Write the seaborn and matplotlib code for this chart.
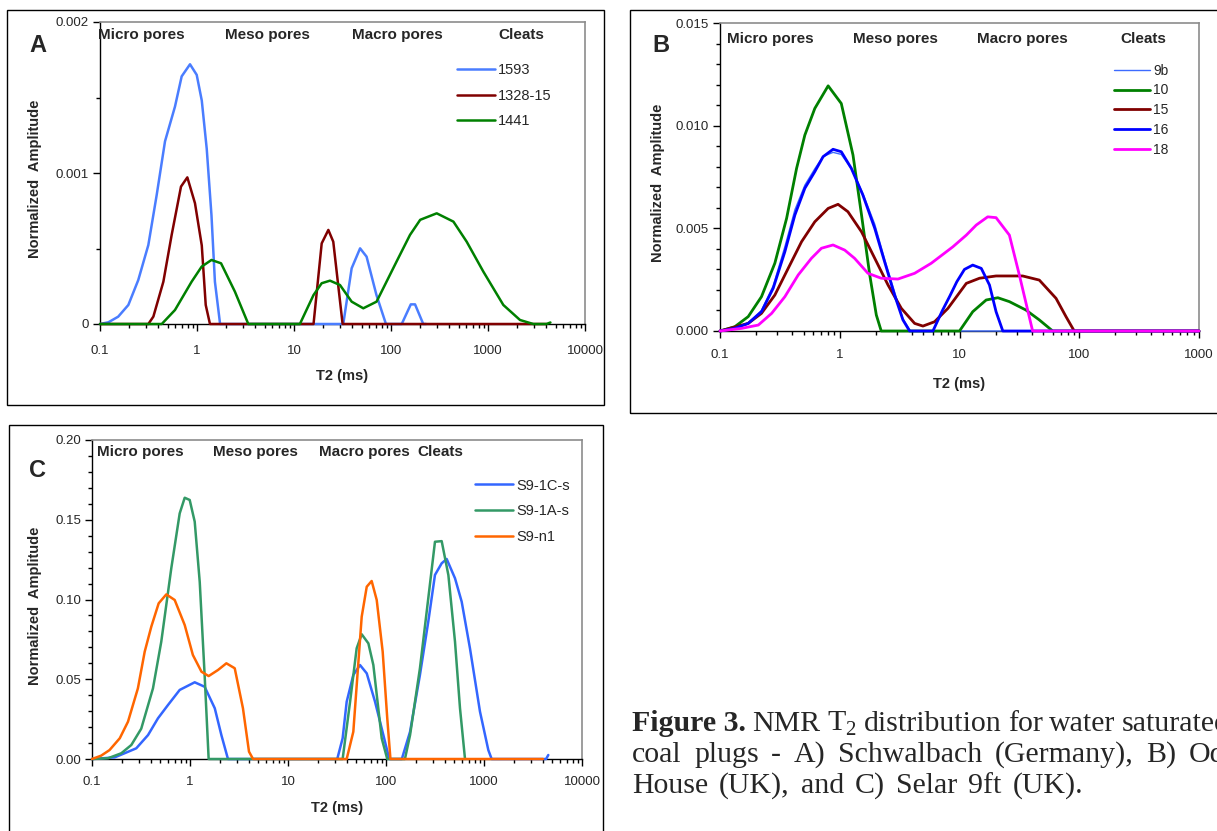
import numpy as np
import pandas as pd
import matplotlib
matplotlib.use("Agg")
import matplotlib.pyplot as plt
import matplotlib.ticker as mticker
from matplotlib.patches import Rectangle
import seaborn as sns

sns.set_style("white")
plt.rcParams["font.family"] = ["Liberation Sans", "DejaVu Sans"]

W, H = 1217, 831

# ---- Panel A: Schwalbach ----
t2_1593 = [0.1, 0.122, 0.154, 0.196, 0.248, 0.315, 0.384, 0.468, 0.593, 0.695, 0.847, 0.993,
           1.12, 1.26, 1.41, 1.53, 1.73, 32.2, 39.3, 48, 56, 70.8, 88.7, 129, 160, 177, 215, 230]
amp_1593 = [0, 0.0000113, 0.0000485, 0.000126, 0.000291, 0.000523, 0.000854, 0.00121, 0.00144,
            0.00164, 0.00172, 0.00165, 0.00148, 0.00116, 0.00072, 0.00028, 0, 0, 0.000369,
            0.000501, 0.000446, 0.000192, 0, 0, 0.00013, 0.00013, 0, 0]
t2_1328 = [0.1, 0.315, 0.355, 0.45, 0.548, 0.684, 0.795, 0.953, 1.12, 1.23, 1.36,
           15.9, 19.3, 22.6, 25.4, 31.7, 4000]
amp_1328 = [0, 0, 0.000049, 0.00028, 0.00059, 0.00091, 0.000971, 0.0008, 0.00052, 0.000126, 0,
            0, 0.000534, 0.000623, 0.000545, 0, 0]
t2_1441 = [0.1, 0.433, 0.593, 0.88, 1.117, 1.41, 1.77, 2.46, 3.38, 11.5, 15.9, 19.3, 23.5, 29.8,
           39.3, 51.8, 71, 114, 157, 200, 296, 440, 603, 895, 1439, 2138, 2930, 4000, 4400]
amp_1441 = [0, 0, 0.0000927, 0.00028, 0.00038, 0.000424, 0.000402, 0.000214, 0, 0, 0.000192,
            0.00027, 0.000287, 0.000258, 0.000148, 0.000104, 0.000148, 0.000413, 0.00059,
            0.00069, 0.000733, 0.000678, 0.000545, 0.000347, 0.000126, 0.0000265, 0, 0, 0.00001]

# ---- Panel B: Oddie House ----
t2_9b = [0.1, 0.133, 0.172, 0.222, 0.278, 0.348, 0.422, 0.511, 0.619, 0.726, 0.879, 1.03,
         1.25, 1.56, 1.96, 2.37, 2.87, 3.37, 3.9, 1000]
amp_9b = [0, 0.00014, 0.0004, 0.001, 0.0022, 0.0041, 0.0059, 0.0071, 0.0079, 0.0085, 0.0087,
          0.0086, 0.0079, 0.0067, 0.0052, 0.0035, 0.0019, 0.0006, 0, 0]
t2_10 = [0.1, 0.133, 0.172, 0.222, 0.287, 0.36, 0.436, 0.511, 0.619, 0.8, 1.03, 1.29, 1.52,
         1.78, 2.02, 2.22, 10, 12.9, 16.7, 20.9, 26.1, 35.9, 46.4, 60, 1000]
amp_10 = [0, 0.00021, 0.0007, 0.00167, 0.0033, 0.00549, 0.00792, 0.00954, 0.01084, 0.01194,
          0.01108, 0.00857, 0.00565, 0.00273, 0.00078, 0, 0, 0.00094, 0.00151, 0.00162,
          0.00143, 0.00102, 0.00054, 0, 0]
t2_15 = [0.1, 0.172, 0.222, 0.287, 0.371, 0.48, 0.619, 0.8, 0.968, 1.17, 1.52, 1.96, 2.53,
         3.27, 4.22, 4.95, 6.19, 8.0, 11.4, 14.7, 20.2, 33.7, 46.4, 64, 77.5, 90.8, 1000]
amp_15 = [0, 0.00037, 0.00086, 0.00175, 0.00305, 0.00435, 0.00532, 0.00597, 0.00617, 0.00581,
          0.00483, 0.00354, 0.00224, 0.0011, 0.00037, 0.00024, 0.00045, 0.0011, 0.00232,
          0.00257, 0.00268, 0.00268, 0.00248, 0.00159, 0.0007, 0, 0]
t2_16 = [0.1, 0.133, 0.172, 0.222, 0.278, 0.348, 0.422, 0.511, 0.619, 0.726, 0.879, 1.03,
         1.25, 1.56, 1.96, 2.37, 2.87, 3.37, 3.83, 6.0, 7.2, 8.3, 9.5, 11, 12.9, 15.2, 17.8,
         20.2, 23, 1000]
amp_16 = [0, 0.00013, 0.00037, 0.00094, 0.00208, 0.00386, 0.00565, 0.00695, 0.00776, 0.00849,
          0.00885, 0.00873, 0.00792, 0.00662, 0.005, 0.00337, 0.00175, 0.00054, 0, 0, 0.001,
          0.0017, 0.0024, 0.003, 0.00321, 0.00305, 0.00224, 0.00094, 0, 0]
t2_18 = [0.1, 0.152, 0.209, 0.27, 0.348, 0.45, 0.58, 0.703, 0.879, 1.1, 1.33, 1.72, 2.22, 3.06,
         4.22, 5.81, 8.8, 11.4, 13.8, 17.2, 20.2, 26.1, 31.6, 40.8, 1000]
amp_18 = [0, 0.00013, 0.00029, 0.00086, 0.00167, 0.00273, 0.00354, 0.00403, 0.00419, 0.00394,
          0.00354, 0.00281, 0.00257, 0.00253, 0.00281, 0.0033, 0.0041, 0.00467, 0.00516,
          0.00556, 0.00552, 0.00467, 0.00273, 0, 0]

# ---- Panel C: Selar 9ft ----
t2_1c = [0.1, 0.17, 0.215, 0.283, 0.373, 0.471, 0.597, 0.785, 1.117, 1.41, 1.79, 2.09, 2.44,
         31.8, 36.1, 39.7, 46.4, 54.3, 63.6, 77.3, 94, 108, 145, 176, 222, 270, 316, 370, 416,
         506, 592, 719, 910, 1107, 1197, 4300, 4530]
amp_1c = [0, 0.001, 0.0036, 0.0067, 0.015, 0.0255, 0.0339, 0.0433, 0.0481, 0.0453, 0.0318,
          0.015, 0, 0, 0.013, 0.0359, 0.0527, 0.0589, 0.0537, 0.0359, 0.015, 0, 0, 0.0171,
          0.0527, 0.0861, 0.1154, 0.1227, 0.1254, 0.1133, 0.0986, 0.0694, 0.0297, 0.0056, 0,
          0, 0.0025]
t2_1a = [0.1, 0.146, 0.199, 0.252, 0.318, 0.419, 0.509, 0.644, 0.785, 0.883, 0.993, 1.117,
         1.257, 1.41, 1.55, 36.1, 43, 50.2, 56.5, 66.1, 74.3, 90.4, 103, 156, 176, 222, 270,
         316, 370, 433, 506, 569, 640]
amp_1a = [0, 0.0005, 0.0036, 0.0088, 0.019, 0.0443, 0.0735, 0.1195, 0.154, 0.1638, 0.1624,
          0.1488, 0.111, 0.0527, 0, 0, 0.0359, 0.0694, 0.0782, 0.0725, 0.0589, 0.013, 0, 0,
          0.015, 0.0569, 0.1007, 0.1362, 0.1366, 0.1153, 0.0735, 0.0318, 0]
t2_n1 = [0.1, 0.124, 0.151, 0.192, 0.233, 0.294, 0.345, 0.403, 0.479, 0.573, 0.698, 0.883,
         1.07, 1.31, 1.55, 1.93, 2.35, 2.86, 3.47, 4.0, 4.4, 39.7, 46.4, 56.5, 63.6, 71.4,
         80.4, 92.5, 103, 111, 4000]
amp_n1 = [0, 0.0021, 0.0056, 0.013, 0.0234, 0.0443, 0.0673, 0.083, 0.0976, 0.1032, 0.0997,
          0.084, 0.0652, 0.0547, 0.052, 0.0558, 0.06, 0.0569, 0.0318, 0.0046, 0, 0, 0.0171,
          0.0892, 0.108, 0.1116, 0.0997, 0.0673, 0.0255, 0, 0]

regions = ["Micro pores", "Meso pores", "Macro pores", "Cleats"]

caption_lines = [
    ["Figure 3.", "NMR", r"T$_\mathregular{2}$", "distribution", "for", "water", "saturated"],
    ["coal", "plugs", "-", "A)", "Schwalbach", "(Germany),", "B)", "Oddie"],
    ["House", "(UK),", "and", "C)", "Selar", "9ft", "(UK)."],
]


def px_axes(x0, y0, x1, y1):
    """Axes rectangle from pixel corners (top-left origin)."""
    return [x0 / W, 1 - y1 / H, (x1 - x0) / W, (y1 - y0) / H]


def frame(x0, y0, x1, y1):
    fig.add_artist(Rectangle((x0 / W, 1 - y1 / H), (x1 - x0) / W, (y1 - y0) / H,
                             transform=fig.transFigure, fill=False,
                             edgecolor="black", linewidth=1))


def draw(ax, t2, amp, color, label, lw):
    sns.lineplot(x=t2, y=amp, color=color, label=label, linewidth=lw,
                 sort=False, estimator=None, ax=ax)


def style(ax, xmax, ymax, yticks, ylabels, yminor, xpad, region_x, region_y,
          ylab_x, xlab_y):
    ax.set_xscale("log")
    ax.set_xlim(0.1, xmax)
    ax.set_ylim(0, ymax)
    decades = [0.1, 1, 10, 100, 1000, 10000]
    decades = [d for d in decades if d <= xmax]
    ax.set_xticks(decades)
    ax.set_xticklabels([f"{d:g}" for d in decades])
    ax.xaxis.set_minor_locator(mticker.LogLocator(base=10, subs=np.arange(2, 10)))
    ax.xaxis.set_minor_formatter(mticker.NullFormatter())
    ax.set_yticks(yticks)
    ax.set_yticklabels(ylabels)
    ax.yaxis.set_minor_locator(mticker.MultipleLocator(yminor))
    ax.tick_params(which="both", direction="out", color="black", width=1,
                   labelsize=9.5, bottom=True, left=True)
    ax.tick_params(which="major", length=5)
    ax.tick_params(which="minor", length=3)
    ax.tick_params(axis="x", which="major", pad=xpad)
    ax.tick_params(axis="y", which="major", pad=3)
    for s in ["left", "bottom"]:
        ax.spines[s].set_color("black")
        ax.spines[s].set_linewidth(1)
    for s in ["top", "right"]:
        ax.spines[s].set_color("#8c8c8c")
        ax.spines[s].set_linewidth(1.2)
    for line in ax.lines:
        line.set_clip_on(False)
        line.set_zorder(3)
    ax.set_xlabel("T2 (ms)", fontsize=10.5, fontweight="bold")
    ax.set_ylabel("Normalized  Amplitude", fontsize=10.5, fontweight="bold")
    ax.xaxis.set_label_coords(0.5, xlab_y)
    ax.yaxis.set_label_coords(ylab_x, 0.48)
    for name, xf in zip(regions, region_x):
        ax.text(xf, region_y, name, transform=ax.transAxes, ha="center", va="center",
                fontsize=11, fontweight="bold")


def place_words(words, x0, y, gap, renderer, bold_first=False):
    x = x0
    for i, w in enumerate(words):
        weight = "bold" if (bold_first and i == 0) else "normal"
        t = fig.text(x / W, 1 - y / H, w, family=["Liberation Serif", "DejaVu Serif"],
                     fontsize=21.5, fontweight=weight, ha="left", va="baseline")
        x += t.get_window_extent(renderer=renderer).width + gap


fig = plt.figure(figsize=(W / 100, H / 100), dpi=100)

# Panel A
axA = fig.add_axes(px_axes(100, 22, 585, 324))
draw(axA, t2_1593, amp_1593, "#4a7dff", "1593", 1.8)
draw(axA, t2_1328, amp_1328, "#800000", "1328-15", 1.8)
draw(axA, t2_1441, amp_1441, "#008000", "1441", 1.8)
style(axA, 10000, 0.002, [0, 0.001, 0.002], ["0", "0.001", "0.002"], 0.0005, 10,
      [0.0845, 0.346, 0.614, 0.868], 0.957, -0.119, -0.15)
axA.legend(loc="upper left", bbox_to_anchor=(0.736, 0.864), frameon=False, fontsize=10.5,
           handlelength=2.6, handletextpad=0.2, labelspacing=0.8, borderpad=0,
           borderaxespad=0)

# Panel B
axB = fig.add_axes(px_axes(720, 23, 1199, 331))
draw(axB, t2_9b, amp_9b, "#3d6bff", "9b", 1.0)
draw(axB, t2_10, amp_10, "#008000", "10", 2.0)
draw(axB, t2_15, amp_15, "#800000", "15", 2.0)
draw(axB, t2_16, amp_16, "#0000ff", "16", 2.0)
draw(axB, t2_18, amp_18, "#ff00ff", "18", 2.0)
style(axB, 1000, 0.015, [0, 0.005, 0.010, 0.015], ["0.000", "0.005", "0.010", "0.015"],
      0.001, 8, [0.104, 0.367, 0.631, 0.883], 0.948, -0.114, -0.15)
axB.legend(loc="upper left", bbox_to_anchor=(0.823, 0.868), frameon=False, fontsize=10,
           handlelength=2.6, handletextpad=0.2, labelspacing=0.42, borderpad=0,
           borderaxespad=0)

# Panel C
axC = fig.add_axes(px_axes(92, 440, 582, 759))
draw(axC, t2_1c, amp_1c, "#3366ff", "S9-1C-s", 1.8)
draw(axC, t2_1a, amp_1a, "#339966", "S9-1A-s", 1.8)
draw(axC, t2_n1, amp_n1, "#ff6600", "S9-n1", 1.8)
style(axC, 10000, 0.20, [0, 0.05, 0.10, 0.15, 0.20], ["0.00", "0.05", "0.10", "0.15", "0.20"],
      0.01, 7.5, [0.098, 0.333, 0.555, 0.710], 0.962, -0.102, -0.131)
axC.legend(loc="upper left", bbox_to_anchor=(0.782, 0.879), frameon=False, fontsize=10.5,
           handlelength=2.6, handletextpad=0.2, labelspacing=0.79, borderpad=0,
           borderaxespad=0)

# Panel boxes and letters
frame(7, 10, 604, 405)
frame(630, 10, 1222, 413)
frame(9, 425, 603, 840)
for letter, (lx, ly) in {"A": (38, 45), "B": (661, 46), "C": (37, 471)}.items():
    fig.text(lx / W, 1 - ly / H, letter, fontsize=17, fontweight="bold",
             ha="center", va="center")

# Caption: justified text that runs past the right edge, as on the source page
fig.canvas.draw()
renderer = fig.canvas.get_renderer()
place_words(caption_lines[0], 632, 731, 6.5, renderer, bold_first=True)
place_words(caption_lines[1], 632, 762, 12.5, renderer)
place_words(caption_lines[2], 632, 793, 11, renderer)

fig.savefig("out.png", dpi=100)
